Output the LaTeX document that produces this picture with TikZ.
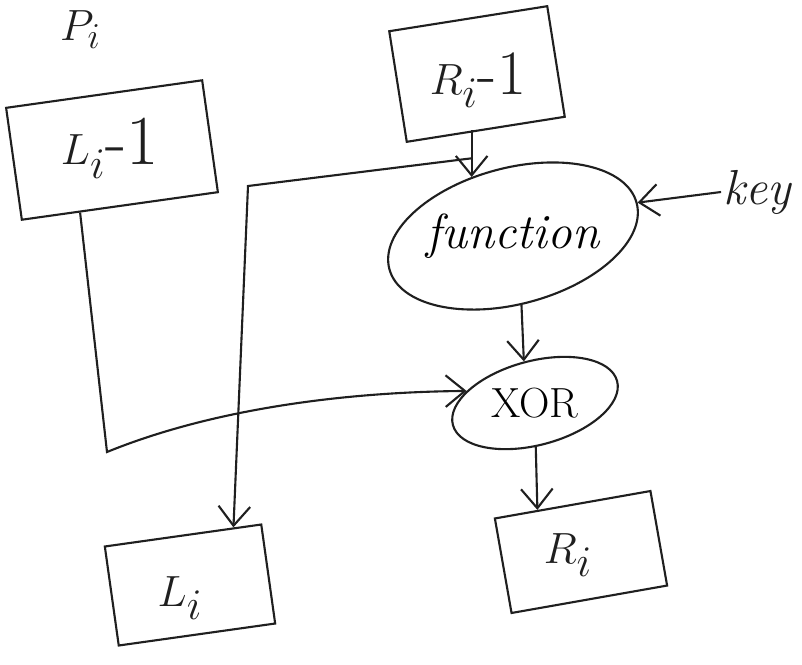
\documentclass[tikz,border=0pt]{standalone}
\usetikzlibrary{shapes.geometric,arrows.meta,calc}
\begin{document}
\begin{tikzpicture}[x=0.02cm,y=-0.02cm,
  ink/.style={draw=black!88, line width=1.2pt},
  box/.style={ink, rectangle, inner sep=0pt},
  oval/.style={ink, ellipse, inner sep=0pt},
  lbl/.style={text=black!88, inner sep=1pt},
  arr/.style={ink, -{Straight Barb[length=11pt,width=18pt,line width=1.2pt]}}]
\useasboundingbox (0,0) rectangle (802,664);
\fill[white] (0,0) rectangle (802,664);

% boxes and ovals
\node[box, minimum width=3.96cm, minimum height=2.26cm, rotate=8] (L1) at (112,150) {};
\node[lbl, font=\fontsize{40}{44}\selectfont] (L1t) at (110,148) {$L_i$-1};
\node[box, minimum width=3.2cm, minimum height=2.24cm, rotate=9] (R1) at (477,74) {};
\node[lbl, font=\fontsize{36}{40}\selectfont] (R1t) at (478,80) {$R_i$-1};
\node[oval, minimum width=5.12cm, minimum height=2.72cm, rotate=15, font=\fontsize{28}{30}\selectfont\itshape] (fn) at (513,236) {\rotatebox{-15}{function}};
\node[oval, minimum width=3.4cm, minimum height=1.68cm, rotate=15, font=\fontsize{24}{26}\selectfont] (XOR) at (535,403) {\rotatebox{-15}{XOR}};
\node[box, minimum width=3.16cm, minimum height=2.0cm, rotate=8] (Li) at (190,585) {};
\node[lbl, font=\fontsize{40}{44}\selectfont] (Lit) at (180,598) {$L_i$};
\node[box, minimum width=3.16cm, minimum height=1.92cm, rotate=10] (Ri) at (581,552) {};
\node[lbl, font=\fontsize{36}{40}\selectfont] (Rit) at (568,555) {$R_i$};
\node[lbl, font=\fontsize{28}{30}\selectfont\itshape] (key) at (757,192) {key};
\node[lbl, font=\fontsize{32}{36}\selectfont, anchor=base west] (P) at (58,40) {$P_i$};

% connectors
\coordinate (rtop) at (fn.110 |- R1.south);
\draw[arr] (rtop) -- (fn.110);
\coordinate (j) at ($(rtop)!0.6!(fn.110)$);
\coordinate (c1) at (248,186);
\draw[arr] (j) -- (c1) -- (Li.45);
\coordinate (c2) at (107,452);
\draw[arr] (L1.235) -- (c2) .. controls (210,410) and (340,392) .. (XOR.155);
\draw[arr] (fn.262) -- (XOR.north);
\draw[arr] (XOR.256) -- (Ri.126);
\draw[arr] (key.west) -- (fn.east);
\end{tikzpicture}
\end{document}
